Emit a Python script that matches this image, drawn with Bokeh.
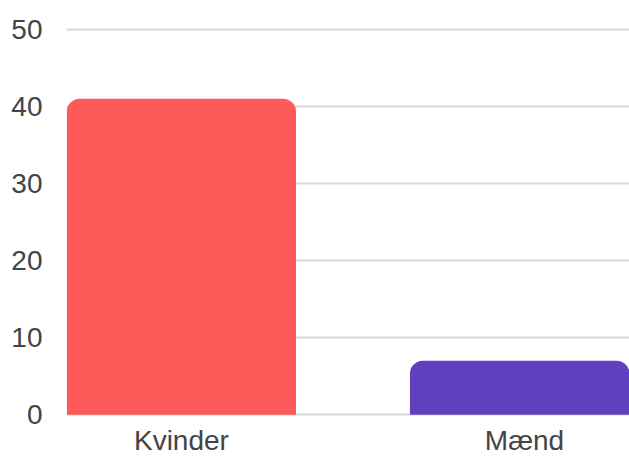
from bokeh.plotting import figure
from bokeh.models import ColumnDataSource, Range1d, FixedTicker
from bokeh.embed import file_html
from bokeh.resources import INLINE

categories = ["Kvinder", "Mænd"]
values = [41, 7]
colors = ["#FF5A5A", "#6040BF"]
y_ticks = [0, 10, 20, 30, 40, 50]

positions = list(range(len(categories)))
source = ColumnDataSource(dict(x=positions, top=values, color=colors))

p = figure(width=629, height=459, output_backend="svg", toolbar_location=None,
           x_range=Range1d(-0.335, 1.306), y_range=Range1d(-0.5, 50.5),
           min_border_left=66, min_border_right=0, min_border_top=25, min_border_bottom=41)
p.outline_line_color = None
p.background_fill_color = "white"
p.border_fill_color = "white"

p.vbar(x="x", top="top", bottom=0, width=0.668, color="color", source=source,
       line_color=None, border_radius=(13, 13, 0, 0))

font = "Liberation Sans"
for ax in (p.xaxis, p.yaxis):
    ax.axis_line_color = None
    ax.major_tick_line_color = None
    ax.minor_tick_line_color = None
    ax.major_label_text_font = font
    ax.major_label_text_font_size = "28px"
    ax.major_label_text_color = "#444444"

p.yaxis.ticker = FixedTicker(ticks=y_ticks)
p.yaxis.major_label_standoff = 18
p.xaxis.ticker = FixedTicker(ticks=positions)
p.xaxis.major_label_overrides = {i: c for i, c in enumerate(categories)}
p.xaxis.major_label_text_line_height = 1.0
p.xaxis.major_label_standoff = 0

p.xgrid.grid_line_color = None
p.ygrid.ticker = FixedTicker(ticks=y_ticks)
p.ygrid.grid_line_color = "#d9d9d9"
p.ygrid.grid_line_width = 2

open("out.html", "w").write(file_html(p, INLINE))
